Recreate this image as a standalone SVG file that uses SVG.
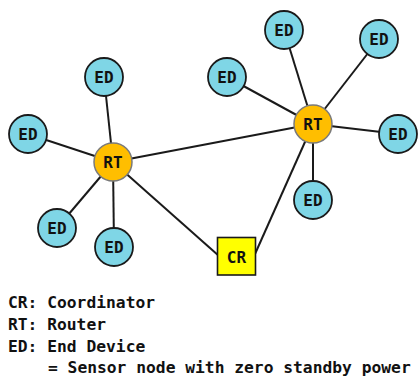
<svg xmlns="http://www.w3.org/2000/svg" width="420" height="378" viewBox="0 0 420 378">
<style>
.ed{fill:#7fd6e6;stroke:#1a1a1a;stroke-width:1.8}
.rt{fill:#ffbe00;stroke:#7a7a7a;stroke-width:1.5}
.cr{fill:#ffff00;stroke:#1a1a1a;stroke-width:1.6}
.lbl{font-family:"DejaVu Sans Mono","Liberation Mono",monospace;font-weight:bold;font-size:16px;fill:#111;text-anchor:middle;dominant-baseline:central}
.leg{font-family:"DejaVu Sans Mono","Liberation Mono",monospace;font-weight:bold;font-size:16.3px;fill:#111}
.ln{stroke:#1a1a1a;stroke-width:2;fill:none}
</style>
<rect width="420" height="378" fill="#ffffff"/>
<g id="connectors">
<line class="ln" x1="113" y1="162" x2="104" y2="77"/>
<line class="ln" x1="113" y1="162" x2="28" y2="134"/>
<line class="ln" x1="113" y1="162" x2="57" y2="228"/>
<line class="ln" x1="113" y1="162" x2="114" y2="247"/>
<line class="ln" x1="113" y1="162" x2="313" y2="124"/>
<line class="ln" x1="113" y1="162" x2="219" y2="256"/>
<line class="ln" x1="313" y1="124" x2="284" y2="30"/>
<line class="ln" x1="313" y1="124" x2="379" y2="39"/>
<line class="ln" x1="313" y1="124" x2="227" y2="77"/>
<line class="ln" x1="313" y1="124" x2="398" y2="134"/>
<line class="ln" x1="313" y1="124" x2="313" y2="200"/>
<line class="ln" x1="313" y1="124" x2="255" y2="254"/>
</g>
<g id="ed1"><circle class="ed" cx="104" cy="77" r="19"/><text class="lbl" x="104" y="77">ED</text></g>
<g id="ed2"><circle class="ed" cx="28" cy="134" r="19"/><text class="lbl" x="28" y="134">ED</text></g>
<g id="ed3"><circle class="ed" cx="57" cy="228" r="19"/><text class="lbl" x="57" y="228">ED</text></g>
<g id="ed4"><circle class="ed" cx="114" cy="247" r="19"/><text class="lbl" x="114" y="247">ED</text></g>
<g id="ed5"><circle class="ed" cx="284" cy="30" r="19"/><text class="lbl" x="284" y="30">ED</text></g>
<g id="ed6"><circle class="ed" cx="379" cy="39" r="19"/><text class="lbl" x="379" y="39">ED</text></g>
<g id="ed7"><circle class="ed" cx="227" cy="77" r="19"/><text class="lbl" x="227" y="77">ED</text></g>
<g id="ed8"><circle class="ed" cx="398" cy="134" r="19"/><text class="lbl" x="398" y="134">ED</text></g>
<g id="ed9"><circle class="ed" cx="313" cy="200" r="19"/><text class="lbl" x="313" y="200">ED</text></g>
<g id="rt1"><circle class="rt" cx="113" cy="162" r="19"/><text class="lbl" x="113" y="162">RT</text></g>
<g id="rt2"><circle class="rt" cx="313" cy="124" r="19"/><text class="lbl" x="313" y="124">RT</text></g>
<g id="cr"><rect class="cr" x="217.5" y="237.5" width="38" height="37.5"/><text class="lbl" x="236.5" y="257">CR</text></g>
<g id="legend">
<text class="leg" x="8" y="308">CR: Coordinator</text>
<text class="leg" x="8" y="330">RT: Router</text>
<text class="leg" x="8" y="352">ED: End Device</text>
<text class="leg" x="48" y="373">= Sensor node with zero standby power</text>
</g>
</svg>
